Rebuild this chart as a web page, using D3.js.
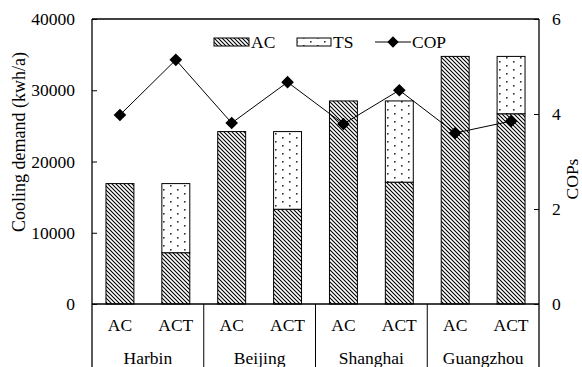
<!DOCTYPE html>
<html>
<head>
<meta charset="utf-8">
<script src="https://cdn.jsdelivr.net/npm/d3@7"></script>
<style>
  html, body { margin: 0; padding: 0; background: #fff; }
  svg text { font-family: 'Liberation Serif', 'Times New Roman', Tinos, 'DejaVu Serif', serif !important; font-size: 17.5px; fill: #000; }
</style>
</head>
<body>
<svg id="chart" width="582" height="367"></svg>
<script>
// Cooling demand per city for the AC system and the AC + thermal storage (ACT) system
const cities = ["Harbin", "Beijing", "Shanghai", "Guangzhou"];
const systems = ["AC", "ACT"];
const acSystemDemand = [16900, 24200, 28500, 34750];   // AC system: all demand met by AC
const actAcDemand    = [7200, 13300, 17100, 26700];    // ACT system: part met by AC
const actTsDemand    = [9700, 10900, 11400, 8050];     // ACT system: part met by TS
const copAC  = [3.98, 3.81, 3.79, 3.60];
const copACT = [5.14, 4.67, 4.50, 3.85];
const demandTicks = [0, 10000, 20000, 30000, 40000];
const copTicks = [0, 2, 4, 6];

const W = 582, H = 367;
const m = { left: 92, right: 43, top: 19, bottom: 63 };
const x0 = m.left, x1 = W - m.right, yTop = m.top, yBot = H - m.bottom;
const serif = "'Liberation Serif', 'Times New Roman', Tinos, 'DejaVu Serif', serif";

const svg = d3.select("#chart").attr("font-family", serif);

// fill patterns
const defs = svg.append("defs");
const hatch = defs.append("pattern").attr("id", "hatch")
  .attr("patternUnits", "userSpaceOnUse").attr("width", 4).attr("height", 4);
hatch.append("rect").attr("width", 4).attr("height", 4).attr("fill", "#fff");
hatch.append("path").attr("d", "M-1,-1L5,5M-1,3L1,5M3,-1L5,1")
  .attr("stroke", "#000").attr("stroke-width", 1.1);

const dots = defs.append("pattern").attr("id", "dots")
  .attr("patternUnits", "userSpaceOnUse").attr("width", 14).attr("height", 8);
dots.append("rect").attr("width", 14).attr("height", 8).attr("fill", "#fff");
dots.append("rect").attr("x", 2).attr("y", 1).attr("width", 1.6).attr("height", 1.6).attr("fill", "#333");
dots.append("rect").attr("x", 9).attr("y", 5).attr("width", 1.6).attr("height", 1.6).attr("fill", "#333");

// scales
const xCity = d3.scaleBand().domain(cities).range([x0, x1]).padding(0);
const xSys = d3.scaleBand().domain(systems).range([0, xCity.bandwidth()])
  .paddingInner(0.5).paddingOuter(0.25);
const y = d3.scaleLinear().domain([0, 40000]).range([yBot, yTop]);
const yCop = d3.scaleLinear().domain([0, 6]).range([yBot, yTop]);

// bar segments
const segments = [];
cities.forEach((c, i) => {
  segments.push({ city: c, sys: "AC", y0: 0, y1: acSystemDemand[i], fill: "url(#hatch)" });
  segments.push({ city: c, sys: "ACT", y0: 0, y1: actAcDemand[i], fill: "url(#hatch)" });
  segments.push({ city: c, sys: "ACT", y0: actAcDemand[i], y1: actAcDemand[i] + actTsDemand[i], fill: "url(#dots)" });
});

svg.append("g").selectAll("rect").data(segments).join("rect")
  .attr("x", d => xCity(d.city) + xSys(d.sys))
  .attr("width", xSys.bandwidth())
  .attr("y", d => y(d.y1))
  .attr("height", d => y(d.y0) - y(d.y1))
  .attr("fill", d => d.fill)
  .attr("stroke", "#000").attr("stroke-width", 1);

// axes
const leftAxis = d3.axisLeft(y).tickValues(demandTicks).tickFormat(d3.format("d"))
  .tickSizeInner(-5).tickSizeOuter(0).tickPadding(17);
const gl = svg.append("g").attr("transform", `translate(${x0},0)`).call(leftAxis);

const rightAxis = d3.axisRight(yCop).tickValues(copTicks).tickFormat(d3.format("d"))
  .tickSizeInner(-5).tickSizeOuter(0).tickPadding(13);
const gr = svg.append("g").attr("transform", `translate(${x1},0)`).call(rightAxis);

[gl, gr].forEach(g => {
  g.attr("font-family", serif).attr("font-size", 17.5);
  g.selectAll(".domain").remove();
  g.selectAll(".tick line").attr("stroke", "#000");
});

// frame: top border, left/right axes extended down through category rows, baseline
const frame = svg.append("g").attr("stroke", "#000").attr("stroke-width", 1.3).attr("fill", "none");
frame.append("line").attr("x1", x0).attr("x2", x1).attr("y1", yTop).attr("y2", yTop);
frame.append("line").attr("x1", x0).attr("x2", x1).attr("y1", yBot).attr("y2", yBot);
frame.append("line").attr("x1", x0).attr("x2", x0).attr("y1", yTop).attr("y2", H);
frame.append("line").attr("x1", x1).attr("x2", x1).attr("y1", yTop).attr("y2", H);
frame.selectAll("line.sep").data(cities.slice(1)).join("line").attr("class", "sep")
  .attr("x1", d => xCity(d)).attr("x2", d => xCity(d))
  .attr("y1", yBot).attr("y2", H).attr("stroke-width", 1);

// category labels
const labels = svg.append("g").attr("text-anchor", "middle");
cities.forEach(c => {
  systems.forEach(s => {
    labels.append("text")
      .attr("x", xCity(c) + xSys(s) + xSys.bandwidth() / 2)
      .attr("y", 331).text(s);
  });
  labels.append("text")
    .attr("x", xCity(c) + xCity.bandwidth() / 2)
    .attr("y", 364).text(c);
});

// COP line
const copPoints = [];
cities.forEach((c, i) => {
  copPoints.push({ x: xCity(c) + xSys("AC") + xSys.bandwidth() / 2, v: copAC[i] });
  copPoints.push({ x: xCity(c) + xSys("ACT") + xSys.bandwidth() / 2, v: copACT[i] });
});
svg.append("path").datum(copPoints)
  .attr("d", d3.line().x(d => d.x).y(d => yCop(d.v)))
  .attr("fill", "none").attr("stroke", "#000").attr("stroke-width", 1);
const diamond = d3.symbol().type(d3.symbolSquare).size(80);
svg.append("g").selectAll("path").data(copPoints).join("path")
  .attr("transform", d => `translate(${d.x},${yCop(d.v)}) rotate(45)`)
  .attr("d", diamond()).attr("fill", "#000");

// axis titles
svg.append("text").attr("text-anchor", "middle")
  .attr("transform", "translate(25,142) rotate(-90)")
  .style("font-size", "18px")
  .text("Cooling demand (kwh/a)");
svg.append("text").attr("text-anchor", "middle")
  .attr("transform", "translate(578,179) rotate(-90)")
  .text("COPs");

// legend
const lg = svg.append("g");
const ly = 38;
lg.append("rect").attr("x", 214).attr("y", ly).attr("width", 35).attr("height", 8)
  .attr("fill", "url(#hatch)").attr("stroke", "#000").attr("stroke-width", 1);
lg.append("text").attr("x", 251).attr("y", 48).text("AC");
lg.append("rect").attr("x", 297).attr("y", ly).attr("width", 34).attr("height", 8)
  .attr("fill", "url(#dots)").attr("stroke", "#000").attr("stroke-width", 1);
lg.append("text").attr("x", 333).attr("y", 48).text("TS");
lg.append("line").attr("x1", 375).attr("x2", 411).attr("y1", 42).attr("y2", 42)
  .attr("stroke", "#000").attr("stroke-width", 1);
lg.append("path").attr("transform", "translate(393,42) rotate(45)")
  .attr("d", d3.symbol().type(d3.symbolSquare).size(64)()).attr("fill", "#000");
lg.append("text").attr("x", 412).attr("y", 48).text("COP");
</script>
</body>
</html>
